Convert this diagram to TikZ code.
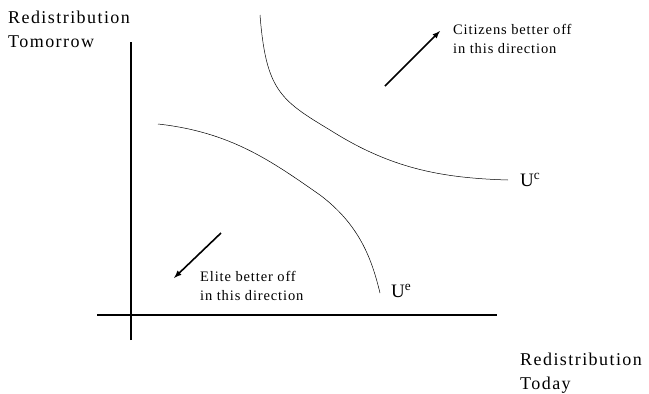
\documentclass[tikz,border=0pt]{standalone}
\usepackage{fontspec}
\setmainfont{Liberation Serif}
\newfontfamily\widefont[LetterSpace=8]{Liberation Serif}
\newfontfamily\notefont[LetterSpace=6]{Liberation Serif}
\begin{document}
\begin{tikzpicture}[x=1pt,y=-1pt]
\useasboundingbox (0,0) rectangle (649,394);
\tikzset{axis/.style={line width=2.6pt},
  curve/.style={line width=0.5pt},
  dirarrow/.style={line width=1.6pt,-latex},
  biglabel/.style={font=\widefont\fontsize{18}{24}\selectfont,align=left,inner sep=0pt},
  smalllabel/.style={font=\notefont\fontsize{14.5}{19}\selectfont,align=left,inner sep=0pt},
  ulabel/.style={font=\fontsize{19}{22}\selectfont,anchor=base west,inner sep=0pt}}
% axes
\coordinate (ytop) at (131,42);
\coordinate (ybot) at (131,340);
\coordinate (xleft) at (97,315);
\coordinate (xright) at (497,315);
\draw[axis] (ybot) -- (ytop);
\draw[axis] (xleft) -- (xright);
% indifference curves
\draw[curve] (260,15) .. controls (266,90) and (280,100) .. (330,130)
  .. controls (390,168) and (440,178) .. (508,180);
\draw[curve] (158,124) .. controls (230,132) and (270,160) .. (320,195)
  .. controls (360,225) and (372,260) .. (380,293);
% directions
\coordinate (ca) at (385,86);
\coordinate (cb) at (440,31);
\coordinate (ea) at (221,233);
\coordinate (eb) at (174,278);
\draw[dirarrow] (ca) -- (cb);
\draw[dirarrow] (ea) -- (eb);
% labels (base = last line)
\node[biglabel,anchor=base west] (ylab) at (8,47) {Redistribution\\Tomorrow};
\node[biglabel,anchor=base west] (xlab) at (520,389) {Redistribution\\Today};
\node[smalllabel,anchor=base west] (clab) at (453,53) {Citizens better off\\in this direction};
\node[smalllabel,anchor=base west] (elab) at (200,300) {Elite better off\\in this direction};
\node[ulabel] (uc) at (520,186) {U\textsuperscript{c}};
\node[ulabel] (ue) at (391,297) {U\textsuperscript{e}};
\end{tikzpicture}
\end{document}
